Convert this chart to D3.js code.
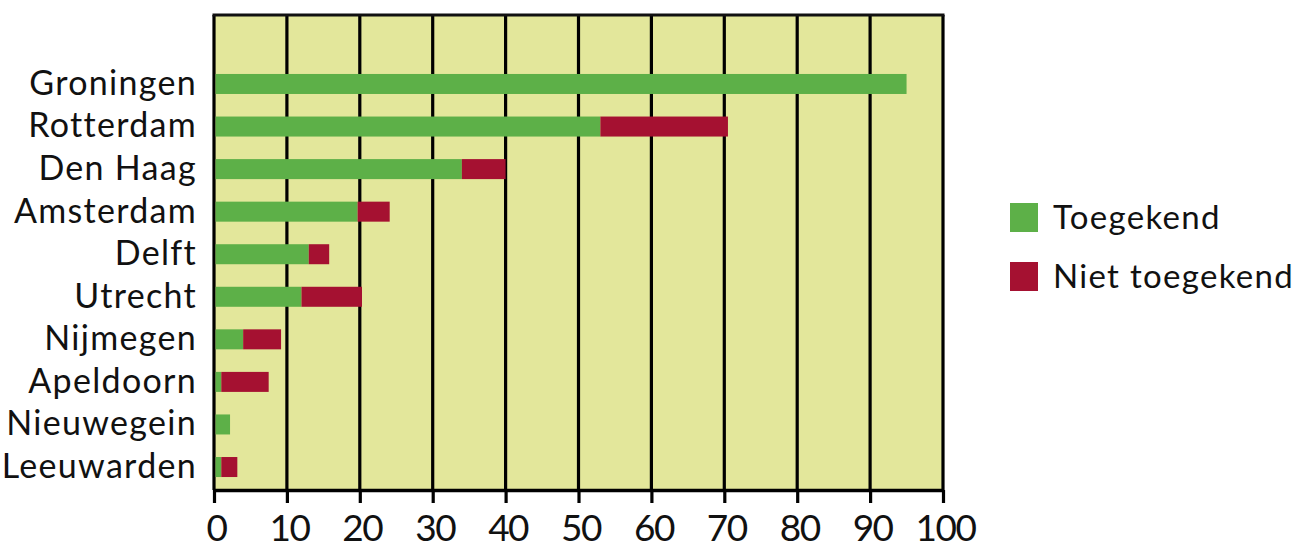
<!DOCTYPE html>
<html>
<head>
<meta charset="utf-8">
<script src="https://cdn.jsdelivr.net/npm/d3@7"></script>
<style>
  html, body { margin: 0; padding: 0; background: #ffffff; }
  svg { display: block; }
  text { font-family: Lato, "Open Sans", sans-serif; fill: #111; }
</style>
</head>
<body>
<svg id="chart" width="1310" height="550"></svg>
<script>
const categories = ["Groningen","Rotterdam","Den Haag","Amsterdam","Delft","Utrecht","Nijmegen","Apeldoorn","Nieuwegein","Leeuwarden"];
const toegekend    = [95, 53, 34, 19.7, 13, 12, 4, 1, 2.2, 1];
const nietToegekend = [0, 17.5, 6, 4.4, 2.8, 8.3, 5.2, 6.5, 0, 2.2];
const seriesNames = ["Toegekend","Niet toegekend"];
const seriesColors = ["#5db048","#a51131"];
const xTicks = [0,10,20,30,40,50,60,70,80,90,100];

const svg = d3.select("#chart");
const plot = {left: 214, right: 943, top: 15, bottom: 490};

const x = d3.scaleLinear().domain([0,100]).range([plot.left, plot.right]);
const y = d3.scaleBand().domain(categories).range([62.7, 488.3]).paddingInner(0.53).paddingOuter(0.265);

// background
svg.append("rect").attr("x", plot.left).attr("y", plot.top)
  .attr("width", plot.right - plot.left).attr("height", plot.bottom - plot.top)
  .attr("fill", "#e3e79b");

// grid lines
svg.append("g").selectAll("line").data(xTicks).join("line")
  .attr("x1", d => x(d)).attr("x2", d => x(d))
  .attr("y1", plot.top).attr("y2", plot.bottom)
  .attr("stroke", "#000").attr("stroke-width", 3.2);

// top border
svg.append("line").attr("x1", plot.left - 1.5).attr("x2", plot.right + 1.5)
  .attr("y1", plot.top).attr("y2", plot.top).attr("stroke", "#111").attr("stroke-width", 3);

// stacked bars
const rows = categories.map((c, i) => ({cat: c, a: toegekend[i], b: nietToegekend[i]}));
const stack = d3.stack().keys(["a","b"])(rows);
svg.append("g").selectAll("g").data(stack).join("g")
  .attr("fill", (d, i) => seriesColors[i])
  .selectAll("rect").data(d => d.filter(s => s[1] > s[0])).join("rect")
  .attr("x", d => x(d[0]) + (d[0] === 0 ? 1.6 : 0))
  .attr("width", d => x(d[1]) - x(d[0]) - (d[0] === 0 ? 1.6 : 0))
  .attr("y", d => y(d.data.cat))
  .attr("height", y.bandwidth());

// x axis
const xAxis = d3.axisBottom(x).tickValues(xTicks).tickSize(13).tickSizeOuter(0).tickPadding(14);
const gx = svg.append("g").attr("transform", `translate(0,${plot.bottom})`).call(xAxis);
gx.select(".domain").attr("stroke", "#000").attr("stroke-width", 3.5);
gx.selectAll(".tick line").attr("stroke", "#000").attr("stroke-width", 3.2);
gx.selectAll(".tick text").attr("font-size", 37).attr("letter-spacing", "-1.5px")
  .attr("dx", 2).attr("y", 25).attr("dy", "0.71em")
  .attr("font-family", "Lato, sans-serif").attr("fill", "#111");

// y labels
const yAxis = d3.axisLeft(y).tickSize(0).tickPadding(17);
const gy = svg.append("g").attr("transform", `translate(${plot.left},0)`).call(yAxis);
gy.select(".domain").remove();
gy.selectAll(".tick text").attr("font-size", 34).attr("letter-spacing", "1.3px")
  .attr("font-family", "Lato, sans-serif").attr("fill", "#111");

// legend
const legend = svg.append("g").attr("transform", "translate(1010,203)");
const li = legend.selectAll("g").data(seriesNames).join("g")
  .attr("transform", (d, i) => `translate(0,${i * 59})`);
li.append("rect").attr("width", 28).attr("height", 29).attr("fill", (d, i) => seriesColors[i]);
li.append("text").attr("x", 43).attr("y", 14.5).attr("dy", "0.35em")
  .attr("font-size", 33).attr("letter-spacing", "1.3px").text(d => d);
</script>
</body>
</html>
